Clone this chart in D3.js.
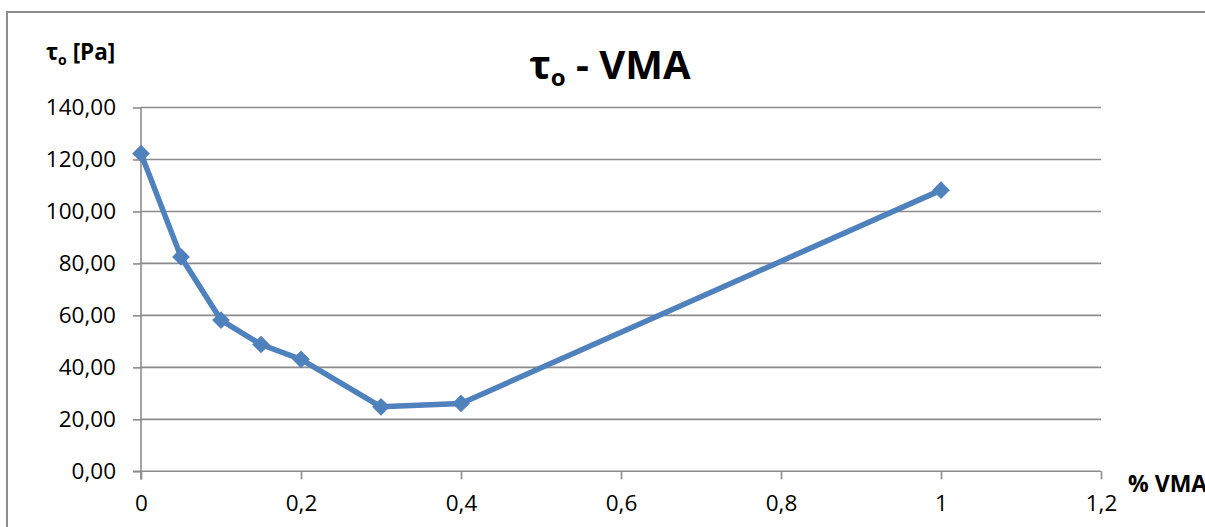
<!DOCTYPE html>
<html>
<head>
<meta charset="utf-8">
<script src="https://cdn.jsdelivr.net/npm/d3@7"></script>
<style>
  html, body { margin: 0; padding: 0; background: #fff; }
  svg { display: block; font-family: "Open Sans", "Noto Sans", sans-serif; }
</style>
</head>
<body>
<svg id="chart" width="1205" height="527"></svg>
<script>
// Yield stress τo versus VMA dosage
const vmaPercent = [0, 0.05, 0.1, 0.15, 0.2, 0.3, 0.4, 1];
const tauO = [122.3, 82.5, 58.2, 48.8, 43.1, 24.8, 26.1, 108.2];
const xTicks = [0, 0.2, 0.4, 0.6, 0.8, 1, 1.2];
const yTicks = [0, 20, 40, 60, 80, 100, 120, 140];

const svg = d3.select("#chart");
const gridColor = "#8c8c8c";
const lineColor = "#4f81bd";

const x = d3.scaleLinear().domain([0, 1.2]).range([141, 1101]);
const y = d3.scaleLinear().domain([0, 140]).range([471.3, 107.5]);

const comma = d => d.toString().replace(".", ",");
const fmtY = d => d3.format(".2f")(d).replace(".", ",");

// Outer chart frame
svg.append("rect")
  .attr("x", 7).attr("y", 12)
  .attr("width", 1260).attr("height", 560)
  .attr("fill", "none").attr("stroke", gridColor).attr("stroke-width", 2);

// Horizontal gridlines
svg.append("g").selectAll("line")
  .data(yTicks.filter(d => d > 0))
  .join("line")
  .attr("x1", x(0)).attr("x2", x(1.2))
  .attr("y1", d => y(d)).attr("y2", d => y(d))
  .attr("stroke", gridColor).attr("stroke-width", 1.6);

// Y axis
const yAxis = svg.append("g")
  .attr("transform", `translate(${x(0)},0)`)
  .call(d3.axisLeft(y).tickValues(yTicks).tickFormat(fmtY).tickSize(8).tickPadding(17));
yAxis.select(".domain").attr("stroke", gridColor).attr("stroke-width", 1.6)
  .attr("d", `M0,${y(140)}V${y(0) + 8.5}`);
yAxis.selectAll(".tick line").attr("stroke", gridColor).attr("stroke-width", 1.6);
yAxis.selectAll(".tick text").attr("fill", "#000").attr("font-size", 22.5)
  .attr("font-family", "'Open Sans', sans-serif");

// X axis
const xAxis = svg.append("g")
  .attr("transform", `translate(0,${y(0)})`)
  .call(d3.axisBottom(x).tickValues(xTicks).tickFormat(comma).tickSize(8).tickPadding(16));
xAxis.select(".domain").attr("stroke", gridColor).attr("stroke-width", 1.6)
  .attr("d", `M${x(0) - 8},0H${x(1.2)}`);
xAxis.selectAll(".tick line").attr("stroke", gridColor).attr("stroke-width", 1.6);
xAxis.selectAll(".tick text").attr("fill", "#000").attr("font-size", 22.5)
  .attr("font-family", "'Open Sans', sans-serif");

// Data line
const pts = vmaPercent.map((v, i) => [v, tauO[i]]);
svg.append("path")
  .datum(pts)
  .attr("fill", "none")
  .attr("stroke", lineColor)
  .attr("stroke-width", 5.5)
  .attr("stroke-linejoin", "round")
  .attr("d", d3.line().x(d => x(d[0])).y(d => y(d[1])));

// Diamond markers
svg.append("g").selectAll("path")
  .data(pts)
  .join("path")
  .attr("transform", d => `translate(${x(d[0])},${y(d[1])})`)
  .attr("d", d3.symbol(d3.symbolDiamond2, 200)())
  .attr("fill", lineColor);

// Chart title
const title = svg.append("text")
  .attr("x", 610).attr("y", 79)
  .attr("text-anchor", "middle")
  .attr("font-size", 40).attr("font-weight", "bold").attr("fill", "#000");
title.append("tspan").text("τ");
title.append("tspan").attr("font-size", 24).attr("dy", 7).text("o");
title.append("tspan").attr("dy", -7).text(" - VMA");

// Y axis title
const yTitle = svg.append("text")
  .attr("x", 46).attr("y", 60)
  .attr("font-size", 22.5).attr("font-weight", "bold").attr("fill", "#000");
yTitle.append("tspan").text("τ");
yTitle.append("tspan").attr("font-size", 14).attr("dy", 5).text("o");
yTitle.append("tspan").attr("dy", -5).text(" [Pa]");

// X axis title
svg.append("text")
  .attr("x", 1128).attr("y", 492)
  .attr("font-size", 23).attr("font-weight", "bold").attr("fill", "#000")
  .text("% VMA");
</script>
</body>
</html>
